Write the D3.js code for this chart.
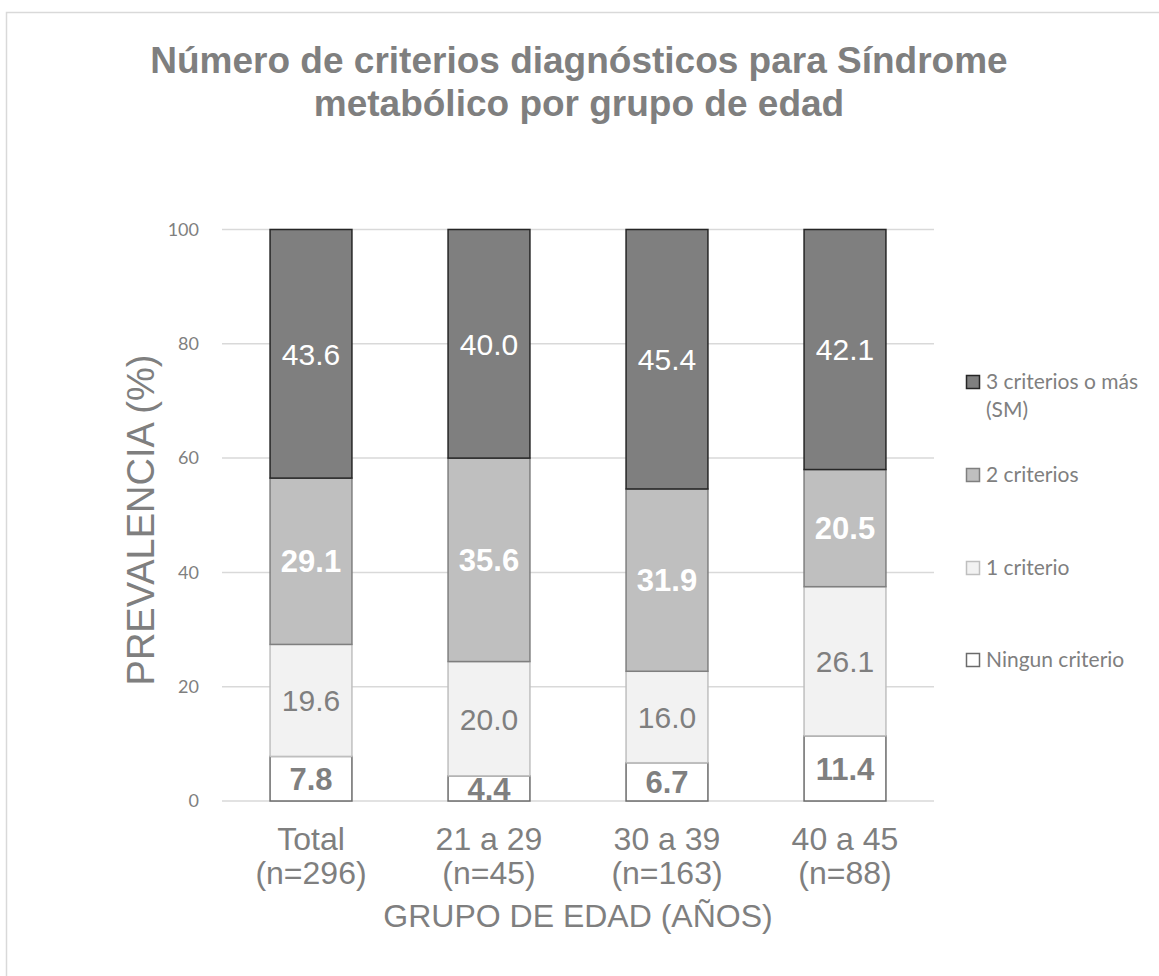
<!DOCTYPE html>
<html>
<head>
<meta charset="utf-8">
<script src="https://cdn.jsdelivr.net/npm/d3@7"></script>
<style>
  html, body { margin: 0; padding: 0; background: #fff; }
  svg { display: block; }
</style>
</head>
<body>
<svg id="chart" width="1159" height="976"></svg>
<script>
// ---- Data ----
const categories = ["Total", "21 a 29", "30 a 39", "40 a 45"];
const categoryN = ["(n=296)", "(n=45)", "(n=163)", "(n=88)"];
const seriesNames = ["Ningun criterio", "1 criterio", "2 criterios", "3 criterios o más (SM)"];
const ninguno = [7.8, 4.4, 6.7, 11.4];
const unCriterio = [19.6, 20.0, 16.0, 26.1];
const dosCriterios = [29.1, 35.6, 31.9, 20.5];
const tresOMas = [43.6, 40.0, 45.4, 42.1];
const yTicks = [0, 20, 40, 60, 80, 100];

const seriesValues = [ninguno, unCriterio, dosCriterios, tresOMas];
const fills = ["#ffffff", "#f2f2f2", "#bfbfbf", "#7f7f7f"];
const strokes = ["#6b6b6b", "#bfbfbf", "#7f7f7f", "#262626"];
const labelColors = ["#7f7f7f", "#7f7f7f", "#ffffff", "#ffffff"];
const labelWeights = ["bold", "normal", "bold", "normal"];
const labelSizes = [31, 30, 31, 30];

const svg = d3.select("#chart");
const gray = "#7f7f7f";
const arial = "'Liberation Sans', Arial, sans-serif";
const calibri = "Lato, 'Open Sans', sans-serif";

// outer border
svg.append("rect").attr("x", 6.5).attr("y", 12.5).attr("width", 1170).attr("height", 1000)
  .attr("fill", "none").attr("stroke", "#d9d9d9").attr("stroke-width", 1.5);

// title
const title = svg.append("text").attr("text-anchor", "middle")
  .attr("font-family", arial)
  .attr("font-weight", "bold").attr("font-size", 37).attr("fill", gray);
title.append("tspan").attr("x", 579).attr("y", 73).text("Número de criterios diagnósticos para Síndrome");
title.append("tspan").attr("x", 579).attr("y", 116).text("metabólico por grupo de edad");

// scales
const x = d3.scaleBand().domain(categories).range([222, 934]).paddingInner(0.54).paddingOuter(0.27);
const y = d3.scaleLinear().domain([0, 100]).range([801, 229.5]);

// gridlines
svg.append("g").selectAll("line").data(yTicks).join("line")
  .attr("x1", 222).attr("x2", 934)
  .attr("y1", d => y(d)).attr("y2", d => y(d))
  .attr("stroke", "#d9d9d9").attr("stroke-width", 1.5);

// y axis tick labels
svg.append("g").selectAll("text").data(yTicks).join("text")
  .attr("x", 199).attr("y", d => y(d)).attr("dy", "0.35em")
  .attr("text-anchor", "end")
  .attr("font-family", calibri).attr("font-size", 18)
  .attr("fill", gray).text(d => d);

// stacked data
const rows = categories.map((c, i) => {
  const o = { cat: c };
  seriesNames.forEach((s, k) => { o[s] = seriesValues[k][i]; });
  return o;
});
const stacked = d3.stack().keys(seriesNames)(rows);

const layers = svg.append("g").selectAll("g").data(stacked).join("g")
  .attr("fill", (d, k) => fills[k]).attr("stroke", (d, k) => strokes[k]).attr("stroke-width", 1.5);

layers.selectAll("rect").data(d => d).join("rect")
  .attr("x", d => x(d.data.cat))
  .attr("width", x.bandwidth())
  .attr("y", d => y(Math.min(d[1], 100)))
  .attr("height", d => y(d[0]) - y(Math.min(d[1], 100)));

// data labels
stacked.forEach((layer, k) => {
  svg.append("g").selectAll("text").data(layer).join("text")
    .attr("x", d => x(d.data.cat) + x.bandwidth() / 2)
    .attr("y", d => y((d[0] + Math.min(d[1], 100)) / 2))
    .attr("dy", "0.36em")
    .attr("text-anchor", "middle")
    .attr("font-family", arial)
    .attr("font-size", labelSizes[k]).attr("font-weight", labelWeights[k])
    .attr("fill", labelColors[k])
    .text(d => d3.format(".1f")(d.data[seriesNames[k]]));
});

// x tick labels
const xl = svg.append("g").selectAll("text").data(categories).join("text")
  .attr("text-anchor", "middle")
  .attr("font-family", arial)
  .attr("font-size", 32).attr("fill", gray);
xl.append("tspan").attr("x", d => x(d) + x.bandwidth() / 2).attr("y", 850).text(d => d);
xl.append("tspan").attr("x", d => x(d) + x.bandwidth() / 2).attr("y", 884).text((d, i) => categoryN[i]);

// axis titles
svg.append("text").attr("x", 578).attr("y", 927).attr("text-anchor", "middle")
  .attr("font-family", arial)
  .attr("font-size", 32).attr("fill", gray).text("GRUPO DE EDAD (AÑOS)");
svg.append("text").attr("transform", "translate(154,520) rotate(-90)").attr("text-anchor", "middle")
  .attr("font-family", arial)
  .attr("font-size", 38).attr("fill", gray).text("PREVALENCIA (%)");

// legend (top to bottom: 3+, 2, 1, ninguno)
const legendOrder = [3, 2, 1, 0];
const legendY = [382, 475, 568, 660];
const lg = svg.append("g");
legendOrder.forEach((k, j) => {
  const cy = legendY[j];
  lg.append("rect").attr("x", 966.5).attr("y", cy - 6.5).attr("width", 13).attr("height", 13)
    .attr("fill", fills[k]).attr("stroke", strokes[k]).attr("stroke-width", 1.5);
  const t = lg.append("text").attr("font-family", calibri)
    .attr("font-size", 21).attr("fill", gray);
  if (k === 3) {
    t.append("tspan").attr("x", 986).attr("y", cy).attr("dy", "0.35em").text("3 criterios o más");
    t.append("tspan").attr("x", 986).attr("y", cy + 28).attr("dy", "0.35em").text("(SM)");
  } else {
    t.append("tspan").attr("x", 986).attr("y", cy).attr("dy", "0.35em").text(seriesNames[k]);
  }
});
</script>
</body>
</html>
